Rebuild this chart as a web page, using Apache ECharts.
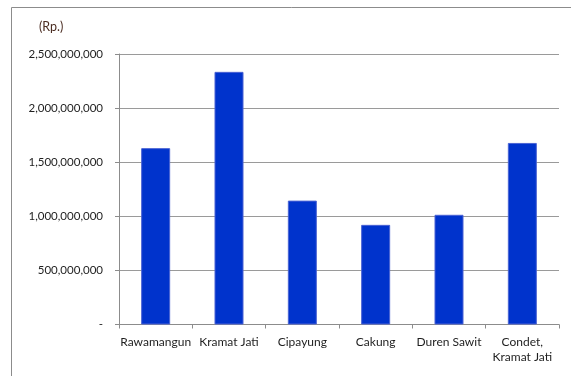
<!DOCTYPE html>
<html>
<head>
<meta charset="utf-8">
<script src="https://cdn.jsdelivr.net/npm/echarts@6/dist/echarts.min.js"></script>
<style>
  html, body { margin: 0; padding: 0; background: #fff; }
  #chart { width: 571px; height: 376px; }
</style>
</head>
<body>
<div id="chart"></div>
<script>
// Districts and their amounts in Rupiah
const categories = ['Rawamangun', 'Kramat Jati', 'Cipayung', 'Cakung', 'Duren Sawit', 'Condet,\nKramat Jati'];
const amounts = [1630000000, 2335000000, 1145000000, 921000000, 1014000000, 1678000000];
const unitLabel = '(Rp.)';

const fontFamily = 'Lato, "Open Sans", sans-serif';

function formatRupiah(v) {
  if (v === 0) return '-';
  return String(v).replace(/\B(?=(\d{3})+(?!\d))/g, ',');
}

const chart = echarts.init(document.getElementById('chart'), null, { renderer: 'canvas' });

chart.setOption({
  animation: false,
  backgroundColor: '#ffffff',
  graphic: [
    {
      type: 'polyline',
      shape: { points: [[11.5, 376], [11.5, 7.5], [571, 7.5]] },
      style: { stroke: '#8c8c8c', lineWidth: 1, fill: null },
      silent: true
    },
    {
      type: 'text',
      left: 39,
      top: 20,
      style: { text: unitLabel, font: '12.5px ' + fontFamily, fill: '#4b2d22' },
      silent: true
    }
  ],
  grid: { left: 119, right: 12, top: 54, bottom: 51.5 },
  xAxis: {
    type: 'category',
    data: categories,
    boundaryGap: true,
    axisLine: { show: true, lineStyle: { color: '#8c8c8c', width: 1 } },
    axisTick: { show: true, length: 4, alignWithLabel: false, lineStyle: { color: '#8c8c8c' } },
    axisLabel: {
      interval: 0,
      margin: 10,
      color: '#1e1e1e',
      fontSize: 12,
      fontFamily: fontFamily,
      lineHeight: 15
    }
  },
  yAxis: {
    type: 'value',
    min: 0,
    max: 2500000000,
    interval: 500000000,
    axisLine: { show: true, lineStyle: { color: '#8c8c8c', width: 1 } },
    axisTick: { show: true, length: 4, lineStyle: { color: '#8c8c8c' } },
    splitLine: { show: true, lineStyle: { color: '#9a9a9a', width: 1 } },
    axisLabel: {
      margin: 16,
      color: '#1e1e1e',
      fontSize: 11.5,
      fontFamily: fontFamily,
      formatter: formatRupiah
    }
  },
  series: [{
    type: 'bar',
    data: amounts,
    barWidth: 29,
    itemStyle: { color: '#0033cc', borderColor: '#4a63d4', borderWidth: 1 }
  }]
});
</script>
</body>
</html>
